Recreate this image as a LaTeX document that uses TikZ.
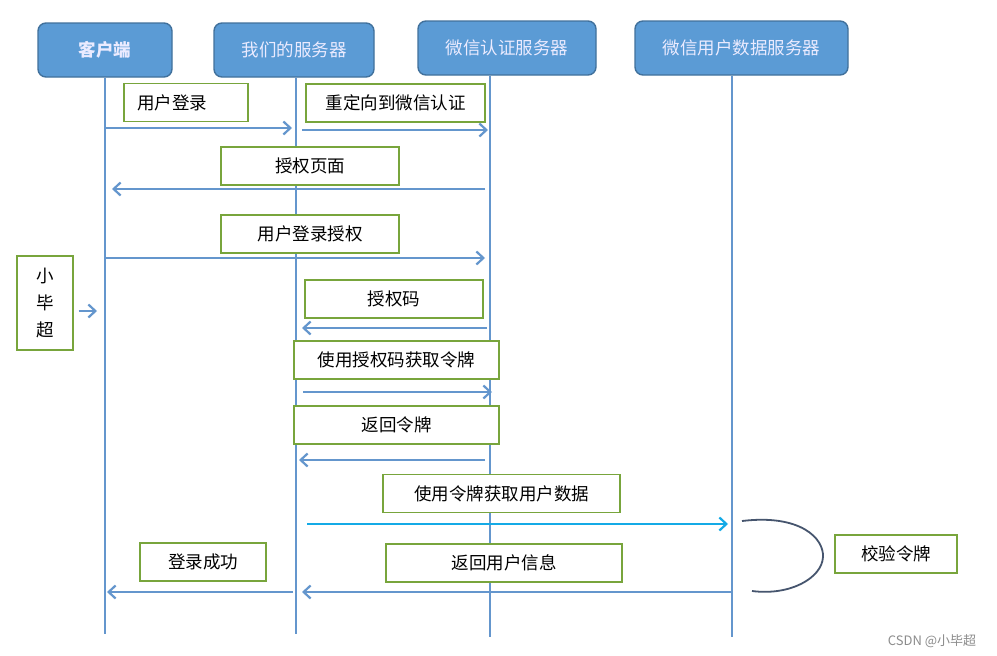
\documentclass[tikz,border=0pt]{standalone}
\usepackage{fontspec}
\setmainfont{Noto Sans CJK SC}
\usetikzlibrary{arrows.meta}
\definecolor{hdrfill}{RGB}{91,155,213}
\definecolor{hdrline}{RGB}{65,113,156}
\definecolor{lifeblue}{RGB}{100,150,205}
\definecolor{lblgreen}{RGB}{120,165,60}
\definecolor{cyanmsg}{RGB}{20,170,230}
\definecolor{loopgray}{RGB}{70,85,110}
\tikzset{
  hdr/.style={draw=hdrline,fill=hdrfill,line width=1.4pt,rounded corners=8pt,
    text=white!92!blue,minimum height=54pt,inner sep=0pt,font=\fontsize{17.5}{20}\selectfont},
  lbl/.style={draw=lblgreen,fill=white,line width=1.3pt,minimum height=38pt,inner sep=0pt,
    font=\fontsize{17.5}{20}\selectfont},
  life/.style={lifeblue,line width=2.3pt},
  msg/.style={lifeblue,line width=2.4pt,-{Straight Barb[length=7pt,width=13pt,line width=2.2pt]}},
}
\begin{document}
\begin{tikzpicture}[x=1pt,y=-1pt]
    \useasboundingbox[fill=white] (0,0) rectangle (997,656);

    % participants
    \node[hdr,minimum width=134pt,font=\fontsize{17.5}{20}\selectfont\bfseries] (cli) at (105,50) {客户端};
    \node[hdr,minimum width=160pt] (our) at (294,50) {我们的服务器};
    \node[hdr,minimum width=178pt] (auth) at (507,48) {微信认证服务器};
    \node[hdr,minimum width=213pt] (data) at (741.5,48) {微信用户数据服务器};

    % lifelines
    \coordinate (cliend) at (105,634);
    \coordinate (ourend) at (296,634);
    \coordinate (authend) at (490,637);
    \coordinate (dataend) at (732,637);
    \draw[life] (cli.south) -- (cliend);
    \draw[life] (our.south -| ourend) -- (ourend);
    \draw[life] (auth.south -| authend) -- (authend);
    \draw[life] (data.south -| dataend) -- (dataend);

    % messages
    \node[lbl,minimum width=124pt,text width=98pt,align=left] (l1) at (186,102.5) {用户登录};
    \coordinate (m1a) at (105,128); \coordinate (m1b) at (292,128);
    \draw[msg] (m1a) -- (m1b);

    \node[lbl,minimum width=179pt] (l2) at (395.5,103) {重定向到微信认证};
    \coordinate (m2a) at (302,130); \coordinate (m2b) at (488,130);
    \draw[msg] (m2a) -- (m2b);

    \node[lbl,minimum width=178pt] (l3) at (310,166) {授权页面};
    \coordinate (m3a) at (485,189); \coordinate (m3b) at (112,189);
    \draw[msg] (m3a) -- (m3b);

    \node[lbl,minimum width=178pt] (l4) at (310,234) {用户登录授权};
    \coordinate (m4a) at (105,258); \coordinate (m4b) at (485,258);
    \draw[msg] (m4a) -- (m4b);

    \node[lbl,minimum width=56pt,minimum height=94pt,align=center,
      font=\fontsize{17.5}{27}\selectfont] (me) at (45,303) {小\\毕\\超};
    \coordinate (m5) at (97,311);
    \draw[msg] (me.east |- m5) ++(5,0) -- (m5);

    \node[lbl,minimum width=178pt] (l6) at (394,299) {授权码};
    \coordinate (m6a) at (487,328); \coordinate (m6b) at (302,328);
    \draw[msg] (m6a) -- (m6b);

    \node[lbl,minimum width=205pt] (l7) at (396.5,360) {使用授权码获取令牌};
    \coordinate (m7a) at (303,392); \coordinate (m7b) at (492,392);
    \draw[msg] (m7a) -- (m7b);

    \node[lbl,minimum width=205pt] (l8) at (396.5,425) {返回令牌};
    \coordinate (m8a) at (485,460); \coordinate (m8b) at (299,460);
    \draw[msg] (m8a) -- (m8b);

    \node[lbl,minimum width=237pt] (l9) at (501.5,493.5) {使用令牌获取用户数据};
    \coordinate (m9a) at (307,524); \coordinate (m9b) at (728,524);
    \draw[msg,cyanmsg] (m9a) -- (m9b);

    \node[lbl,minimum width=122pt] (l10) at (896,554) {校验令牌};
    \coordinate (v1) at (742,521); \coordinate (v2) at (752,591);
    \draw[loopgray,line width=1.8pt] (v1) .. controls (800,514) and (824,538) .. (823,557)
      .. controls (822,578) and (790,596) .. (v2);

    \node[lbl,minimum width=236pt] (l11) at (504,563) {返回用户信息};
    \coordinate (m11a) at (732,592); \coordinate (m11b) at (302,592);
    \draw[msg] (m11a) -- (m11b);

    \node[lbl,minimum width=126pt] (l12) at (203,562) {登录成功};
    \coordinate (m12a) at (293,592); \coordinate (m12b) at (107,592);
    \draw[msg] (m12a) -- (m12b);

    % watermark
    \node[text=black!45,font=\fontsize{13}{15}\selectfont] (wm) at (932,641) {CSDN @小毕超};
\end{tikzpicture}
\end{document}
